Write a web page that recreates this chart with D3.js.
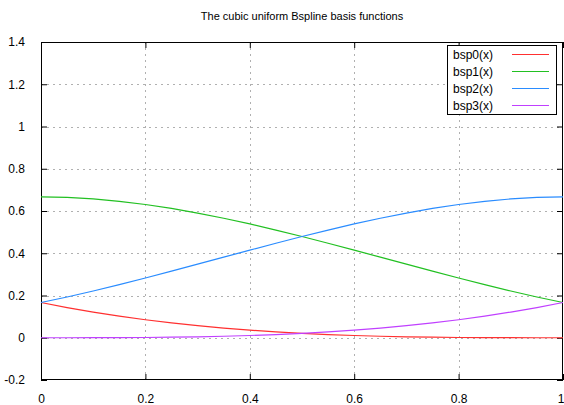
<!DOCTYPE html>
<html><head><meta charset="utf-8">
<script src="https://cdn.jsdelivr.net/npm/d3@7"></script>
<style>body{margin:0;background:#fff}svg{display:block;font-family:"Liberation Sans",Arial,sans-serif}</style>
</head><body><svg id="c" width="564" height="405"></svg>
<script>
const title = "The cubic uniform Bspline basis functions";
const xs = [0,0.05,0.1,0.15,0.2,0.25,0.3,0.35,0.4,0.45,0.5,0.55,0.6,0.65,0.7,0.75,0.8,0.85,0.9,0.95,1];
const bsp0 = [0.1667,0.1429,0.1215,0.1024,0.0853,0.0703,0.0572,0.0458,0.036,0.0277,0.0208,0.0152,0.0107,0.0071,0.0045,0.0026,0.0013,0.0006,0.0002,0.0000,0];
const bsp1 = [0.6667,0.6642,0.6572,0.6459,0.6307,0.612,0.5902,0.5656,0.5387,0.5097,0.4792,0.4474,0.4147,0.3815,0.3482,0.3151,0.2827,0.2512,0.2212,0.1929,0.1667];
const bsp2 = [0.1667,0.1929,0.2212,0.2512,0.2827,0.3151,0.3482,0.3815,0.4147,0.4474,0.4792,0.5097,0.5387,0.5656,0.5902,0.612,0.6307,0.6459,0.6572,0.6642,0.6667];
const bsp3 = [0,0.0000,0.0002,0.0006,0.0013,0.0026,0.0045,0.0071,0.0107,0.0152,0.0208,0.0277,0.036,0.0458,0.0572,0.0703,0.0853,0.1024,0.1215,0.1429,0.1667];
const seriesNames = ["bsp0(x)","bsp1(x)","bsp2(x)","bsp3(x)"];
const seriesValues = [bsp0,bsp1,bsp2,bsp3];
const colors = ["#ff3030","#22c022","#2a8cff","#c040ff"];
const xTicks = [0,0.2,0.4,0.6,0.8,1];
const xTickLabels = ["0","0.2","0.4","0.6","0.8","1"];
const yTicks = [-0.2,0,0.2,0.4,0.6,0.8,1,1.2,1.4];
const yTickLabels = ["-0.2","0","0.2","0.4","0.6","0.8","1","1.2","1.4"];

const svg = d3.select("#c");
const L=41,R=563,T=42,B=380;
const x = d3.scaleLinear().domain([0,1]).range([L,R]);
const y = d3.scaleLinear().domain([-0.2,1.4]).range([B,T]);

svg.append("text").attr("x",(L+R)/2).attr("y",20).attr("text-anchor","middle")
  .attr("font-size",11).attr("fill","#000").text(title);

// grid
const g = svg.append("g");
g.selectAll(".gx").data(xTicks.slice(1,-1)).enter().append("line")
  .attr("x1",d=>Math.round(x(d))+0.5).attr("x2",d=>Math.round(x(d))+0.5).attr("y1",T).attr("y2",B)
  .attr("stroke","#b0b0b0").attr("stroke-dasharray","2,4");
g.selectAll(".gy").data(yTicks.slice(1,-1)).enter().append("line")
  .attr("y1",d=>Math.round(y(d))+0.5).attr("y2",d=>Math.round(y(d))+0.5).attr("x1",L).attr("x2",R)
  .attr("stroke","#b0b0b0").attr("stroke-dasharray","2,4");

// axes with inward ticks, mirrored
const fmtX = (d,i)=>xTickLabels[i], fmtY=(d,i)=>yTickLabels[i];
const axB = svg.append("g").attr("transform",`translate(0,${B})`)
  .call(d3.axisBottom(x).tickValues(xTicks).tickFormat(fmtX).tickSizeInner(-6).tickSizeOuter(0).tickPadding(14));
const axT = svg.append("g").attr("transform",`translate(0,${T})`)
  .call(d3.axisTop(x).tickValues(xTicks).tickFormat("").tickSizeInner(-6).tickSizeOuter(0));
const axL = svg.append("g").attr("transform",`translate(${L},0)`)
  .call(d3.axisLeft(y).tickValues(yTicks).tickFormat(fmtY).tickSizeInner(-6).tickSizeOuter(0).tickPadding(16));
const axR = svg.append("g").attr("transform",`translate(${R},0)`)
  .call(d3.axisRight(y).tickValues(yTicks).tickFormat("").tickSizeInner(-6).tickSizeOuter(0));
[axB,axT,axL,axR].forEach(a=>{
  a.select(".domain").remove();
  a.selectAll("line").attr("stroke","#000");
  a.selectAll("text").attr("font-size",12).attr("fill","#000").attr("font-family","Liberation Sans, Arial, sans-serif");
});
// keep the last x label inside the window
axB.selectAll(".tick text").filter((d,i)=>i===xTicks.length-1).attr("text-anchor","end").attr("dx","1");
svg.append("rect").attr("x",L+0.5).attr("y",T+0.5).attr("width",R-L-1).attr("height",B-T-1)
  .attr("fill","none").attr("stroke","#000");

// curves
const line = d3.line().x((d,i)=>x(xs[i])).y(d=>y(d));
seriesValues.forEach((vals,k)=>{
  svg.append("path").datum(vals).attr("d",line).attr("fill","none")
    .attr("stroke",colors[k]).attr("stroke-width",1.2);
});

// legend
const lg = svg.append("g");
lg.append("rect").attr("x",447.5).attr("y",45.5).attr("width",109).attr("height",69)
  .attr("fill","#fff").attr("stroke","#000");
seriesNames.forEach((n,k)=>{
  const yy = 54 + k*17;
  lg.append("text").attr("x",453).attr("y",yy+4.5).attr("font-size",12).attr("fill","#000").text(n);
  lg.append("line").attr("x1",512).attr("x2",549).attr("y1",yy+0.5).attr("y2",yy+0.5)
    .attr("stroke",colors[k]).attr("stroke-width",1.2);
});
</script></body></html>
